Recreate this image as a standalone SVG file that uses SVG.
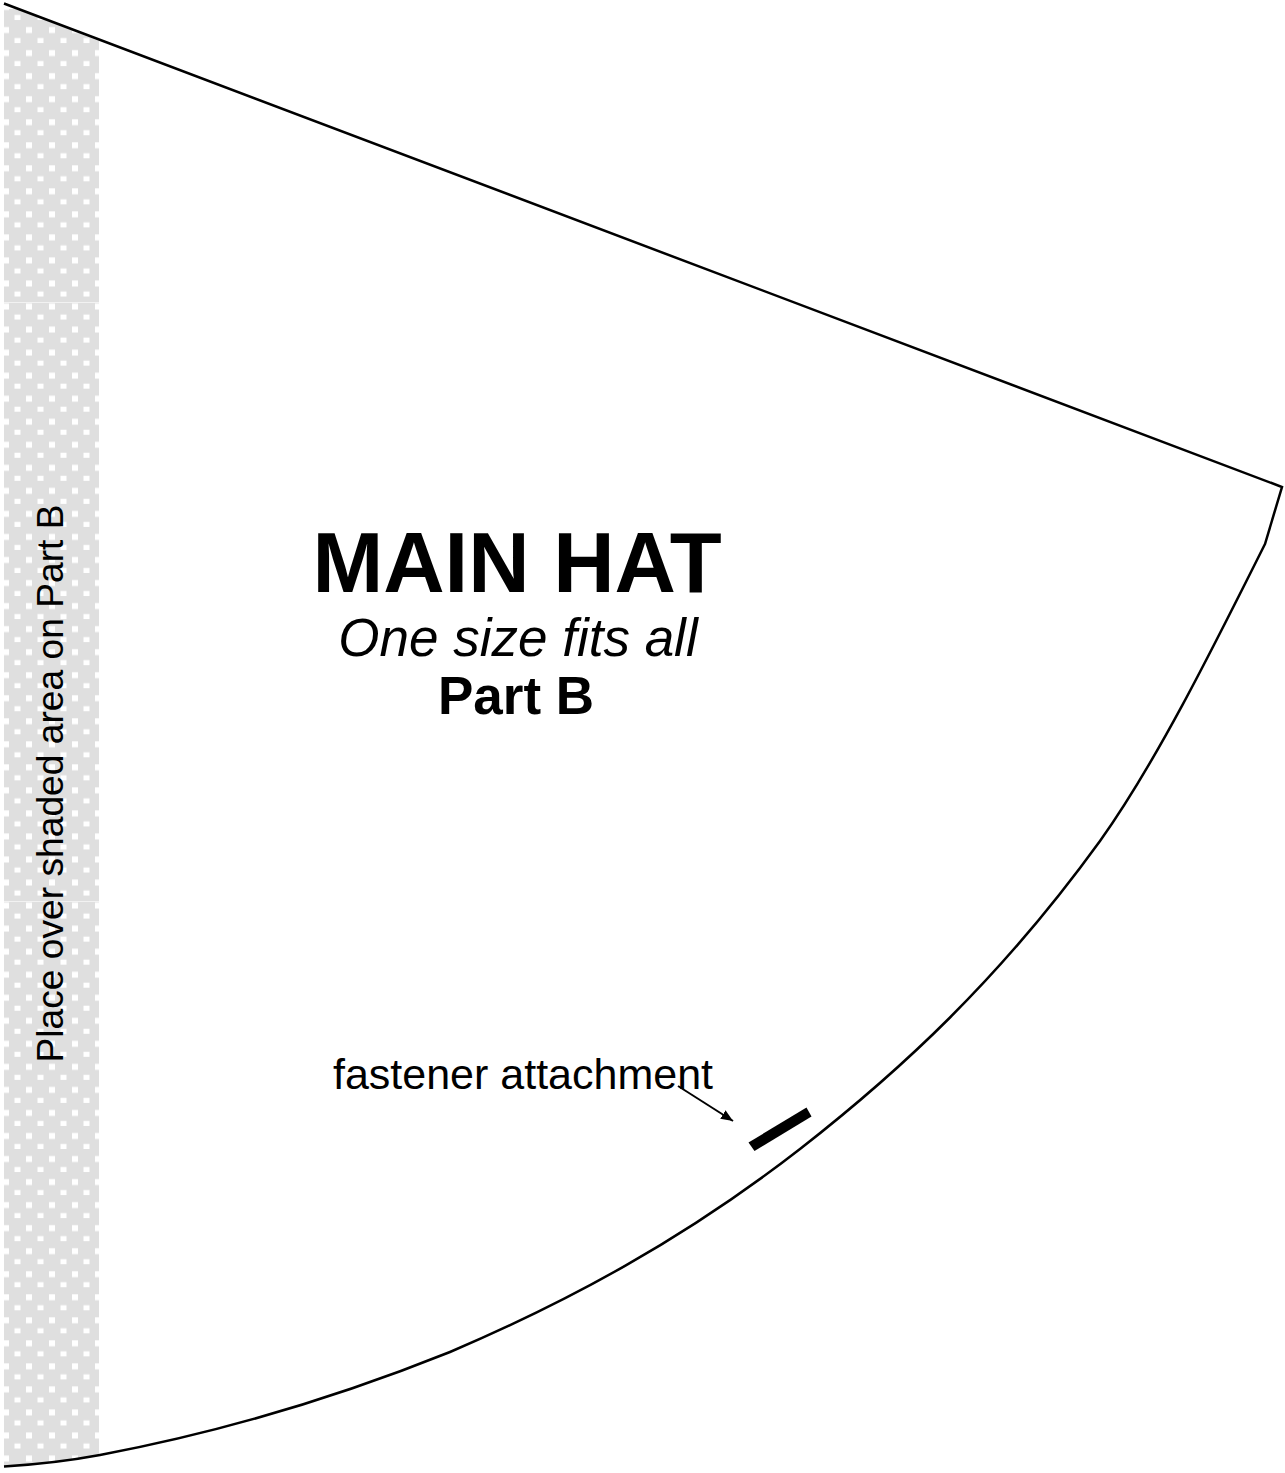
<svg xmlns="http://www.w3.org/2000/svg" width="1285" height="1473" viewBox="0 0 1285 1473">
<style>
text{font-family:"Liberation Sans",Arial,sans-serif;fill:#000}
.outline{fill:none;stroke:#000;stroke-width:2.5;stroke-linejoin:miter}
</style>
<defs>
<pattern id="dots" width="23" height="23.04" patternUnits="userSpaceOnUse" patternTransform="translate(-1 -3)">
<rect width="23" height="23.04" fill="#dfdfdf"/>
<rect x="15.5" y="18" width="6" height="6" fill="#fff"/>
<rect x="4" y="7" width="6" height="6" fill="#fff"/>
</pattern>
<marker id="arrow" markerUnits="userSpaceOnUse" markerWidth="14" markerHeight="12" refX="12" refY="5" orient="auto"><path d="M0 0L12 5L0 10Z" fill="#000"/></marker>
</defs>
<rect width="1285" height="1473" fill="#fff"/>
<g id="shaded-strip">
<path d="M4 9H17L99 41V1455C68 1461 36 1464.5 4 1466.5Z" fill="url(#dots)"/>
<rect x="4" y="302" width="95" height="1" fill="#f2f2f2"/>
<rect x="4" y="901" width="95" height="1" fill="#f2f2f2"/>
</g>
<g id="hat-outline">
<path class="outline" d="M4 3.5L1282 487L1265 544C1210 654 1155 764 1100 841C1000 979 900 1071 800 1149C683 1240 567 1302 450 1352C333 1399 217 1433 100 1455C68 1461 36 1464.5 4 1466.5"/>
</g>
<g id="labels">
<text x="517" y="592" font-size="85" font-weight="bold" text-anchor="middle">MAIN HAT</text>
<text x="518" y="656" font-size="53" font-style="italic" text-anchor="middle">One size fits all</text>
<text x="516" y="714" font-size="53" font-weight="bold" text-anchor="middle">Part B</text>
<text x="523" y="1089" font-size="43" text-anchor="middle">fastener attachment</text>
<text transform="translate(63 783.5) rotate(-90)" font-size="37.2" text-anchor="middle">Place over shaded area on Part B</text>
</g>
<g id="connectors">
<line x1="678" y1="1086" x2="733" y2="1121" stroke="#000" stroke-width="2" marker-end="url(#arrow)"/>
</g>
<g id="fastener-mark">
<path d="M748.5 1142.5L806.5 1107.5L811.5 1116.5L754.5 1151Z" fill="#000"/>
</g>
</svg>
